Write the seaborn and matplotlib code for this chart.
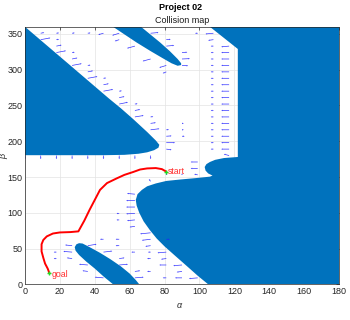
import matplotlib
matplotlib.use("Agg")
import matplotlib.pyplot as plt
import seaborn as sns
import numpy as np

# ---------------- data ----------------
x_ticks = [0, 20, 40, 60, 80, 100, 120, 140, 160, 180]
y_ticks = [0, 50, 100, 150, 200, 250, 300, 350]

# obstacle boundaries (alpha, beta)
obsA_x = [0, 25, 48, 55, 62, 70, 75, 77, 76.5, 74, 70, 65, 57, 45, 0]
obsA_y = [360, 308, 260, 246, 231, 213, 201, 195, 191, 187.5, 184.5, 182.5, 181, 180.5, 180.5]

obsB_x = [50.5, 56, 64, 72, 79, 84, 87.5, 89.5, 89.5, 87.5, 83, 77.5, 72, 66.5]
obsB_y = [360, 351, 338, 326, 316, 309, 305.5, 306.5, 309, 315, 326, 338, 349, 360]

obsC_x = [106, 180, 180, 105, 99, 93, 86, 80, 75.5, 71.5, 68, 65.5, 64, 63.5, 64.5,
          67, 70, 75, 81, 89, 98, 106, 107.5, 105, 103.5, 103, 104, 106, 109, 114, 122, 122]
obsC_y = [360, 360, 0, 0, 12, 25, 40, 53, 64, 76, 88, 100, 110, 118, 126,
          132, 137, 141, 144.5, 146.5, 148.5, 150.5, 152, 155, 159, 164, 168, 171, 174, 176.5, 178, 329]

obsD_x = [31, 33, 37, 43, 49, 55, 60, 63.5, 65.5, 50.5, 45, 40, 35, 31, 29, 28.5, 29.5]
obsD_y = [57.5, 57, 52, 44, 35, 25, 15, 6, 0, 0, 11, 22, 32, 41, 47, 52, 56]

# planned path (start -> goal)
path_a = [81, 78.5, 75, 70, 66, 62, 57, 52.5, 47, 43, 40, 37, 34, 30.6, 26, 20, 16, 12.5,
          10.5, 9.5, 9.5, 10.5, 11.5, 13, 14]
path_b = [157.5, 161, 162.5, 162, 160.5, 157, 153, 148, 141.5, 132, 118, 104, 89, 74, 73, 72.5,
          71, 67, 62, 56, 46, 37, 29, 22, 15.5]
start_pt = (81, 157.5)
goal_pt = (14, 15.5)

# gradient field arrows: position (qx, qy) and components (qu, qv)
qx = [9, 18, 18, 27, 27, 36, 36, 45, 45, 54, 54, 63, 63, 72, 72, 81, 81, 81,
      18, 27, 36, 45, 54, 63, 72, 81,
      9, 18, 27, 36,
      45, 54, 54, 63, 72, 81, 81,
      72, 81, 81, 90, 90, 90,
      99, 108, 108, 108, 117,
      117, 117, 117, 117, 117, 117, 117, 117, 117, 117, 117, 117, 117, 117, 117, 117, 117,
      108, 108, 108, 108, 108, 108, 108, 108, 108, 108, 108, 108, 108, 108, 108, 108,
      0, 9, 18, 27, 36, 45, 54, 63, 72,
      99, 99, 99, 90, 81,
      99, 90, 90, 81, 81, 72, 72, 72, 63, 63, 63, 63, 63, 63, 72,
      54, 54, 72, 81, 90,
      45, 36, 36, 27, 27, 27,
      36, 45, 54, 54, 63, 63,
      45, 54, 54, 63, 72, 72, 81, 81,
      18, 18, 90, 90, 90]
qy = [342, 333, 324, 315, 306, 297, 288, 279, 270, 261, 252, 243, 234, 225, 216, 207, 198, 189,
      342, 324, 306, 288, 270, 252, 234, 216,
      351, 351, 351, 351,
      351, 351, 342, 333, 315, 306, 297,
      351, 342, 333, 324, 315, 306,
      351, 351, 342, 333, 333,
      324, 315, 306, 297, 288, 279, 270, 261, 252, 243, 234, 225, 216, 207, 198, 189, 180,
      324, 315, 306, 297, 288, 279, 270, 261, 252, 243, 234, 225, 216, 207, 198, 189,
      180, 180, 180, 180, 180, 180, 180, 180, 180,
      171, 162, 153, 153, 153,
      9, 18, 27, 36, 45, 54, 63, 72, 81, 90, 99, 108, 117, 126, 144,
      99, 90, 45, 27, 9,
      9, 18, 27, 36, 45, 54,
      54, 45, 36, 27, 18, 9,
      63, 63, 54, 45, 36, 18, 9, 63,
      45, 36, 207, 216, 225]
qu = [5.5, 3, 5.5, 3, 5.5, 3, 5.5, 3, 5.5, 3, 5, 3, 5, 3, 5, 3, 5, 3,
      1.5, 1.5, 1.5, 1.5, 1.5, 1.5, 1.5, 1.5,
      2, 1.5, 1.5, 1.5,
      -3, -4, -2.5, -4.5, -4.5, -4, -2,
      4.5, 2.5, 4.5, 3, 4.5, 3.5,
      -1.5, -4.5, -3, -1.5, -4.5,
      -4.5, -4.5, -4.5, -4.5, -4.5, -4.5, -4.5, -4.5, -4.5, -4.5, -4.5, -4.5, -4.5, -4.5, -4.5, -4.5, -3,
      -1.5, -1.5, -1.5, -1.5, -1.5, -1.5, -1.5, -1.5, -1.5, -1.5, -1.5, -1.5, -1.5, -1.5, -1.5, -1.5,
      0, 0, 0, 0, 0, 0, 0, 0, 0,
      -4, -4, -2, 0, 0.5,
      -5, -3, -5, -3, -5, -3, -5, -6, -3, -4.5, -5, -5, -5, -4.5, -1,
      -1.5, -1.5, -1.5, -4, -4,
      -5, -3, -5, -3, -5, -4,
      5, 5, 3, 5, 3, 5,
      -2, -2, -2, -2, -2, -2, -2, 2,
      -1.5, -1.5, 1.5, 1, 1]
qv = [2.5, 1.5, 2.5, 1.5, 2.5, 1.5, 2.5, 1.5, 2.5, 1.5, 2.5, 1.5, 2, 1, 1.5, 0.5, 0, -1,
      0.5, 0.5, 0.5, 0.5, 0.5, 0.5, 0.5, 0.3,
      1, 0.5, 0.5, 0.5,
      -2, -3, -2, -3, -3, -3, -2,
      1, 0.5, 1, 0.5, 0.5, -0.5,
      0, -1, -1, 0, -1,
      0, 0, 0, 0, 0, 0, 0, 0, 0, 0, 0, 0, 0, 0, 0, 0, 2,
      0, 0, 0, 0, 0, 0, 0, 0, 0, 0, 0, 0, 0, 0, 0, 0,
      -5, -5, -5, -5, -5, -5, -5, -5, -5,
      0, 0, 1, 2, 2,
      -1, -1, -1, -1, -1, -1, -1.5, -1.5, -1, -1, -0.5, 0, 0, 1, 3,
      0, 0, 0, 0, 0,
      1, 1, 1, 1, 1, 1,
      2, 1.5, 1, 1, 1, 1,
      0, 0, 0, 0, 0, 0, 0, 0,
      0, 0, 0, 0, 0]

# ---------------- figure ----------------
sns.set_style("white")
plt.rcParams['font.family'] = ['Liberation Sans', 'DejaVu Sans']

fig = plt.figure(figsize=(3.5, 3.2), dpi=100)
ax = fig.add_axes([25 / 350, 1 - 284.3 / 320, 314 / 350, (284.3 - 26.8) / 320])

obs_color = '#0072BD'
for ox, oy in [(obsA_x, obsA_y), (obsB_x, obsB_y), (obsC_x, obsC_y), (obsD_x, obsD_y)]:
    ax.fill(ox, oy, color=obs_color, lw=0, zorder=1)

ax.quiver(qx, qy, qu, qv, angles='xy', scale_units='xy', scale=1, color='#1f1fff', alpha=0.9,
          width=0.0022, headwidth=2.2, headlength=2.2, headaxislength=2.0, zorder=2)

sns.lineplot(x=path_a, y=path_b, sort=False, estimator=None, color='red', lw=1.4, ax=ax, zorder=3)
ax.plot(*start_pt, marker='+', color='#22dd22', ms=3.5, mew=1, zorder=4)
ax.plot(*goal_pt, marker='+', color='#22dd22', ms=3.5, mew=1, zorder=4)
ax.text(start_pt[0] + 1, start_pt[1], 'start', color='#ff3030', fontsize=6.3, va='center', ha='left', zorder=5)
ax.text(goal_pt[0] + 1, goal_pt[1] - 2, 'goal', color='#ff3030', fontsize=6.3, va='center', ha='left', zorder=5)

ax.set_xlim(0, 180)
ax.set_ylim(0, 360)
ax.set_xticks(x_ticks)
ax.set_yticks(y_ticks)
ax.tick_params(labelsize=6.5, colors='#262626', direction='in', length=2, width=0.5,
               top=True, right=True, pad=2)
ax.grid(True, color='#e3e3e3', lw=0.5)
ax.set_axisbelow(True)
for s in ax.spines.values():
    s.set_linewidth(0.5)
    s.set_color('#262626')
ax.set_xlabel('')
ax.set_ylabel('')

fig.text(0.515, 0.978, 'Project 02', ha='center', va='center', fontsize=6.5, fontweight='bold', color='black')
fig.text(0.52, 0.937, 'Collision map', ha='center', va='center', fontsize=6.5, color='#1a1a1a')
fig.text(0.512, 0.045, 'α', ha='center', va='center', fontsize=6.5, color='#262626', style='italic')
fig.text(0.012, 0.51, 'β', ha='center', va='center', fontsize=6.5, color='#262626', rotation=90, style='italic')

fig.savefig('out.png', dpi=100)
